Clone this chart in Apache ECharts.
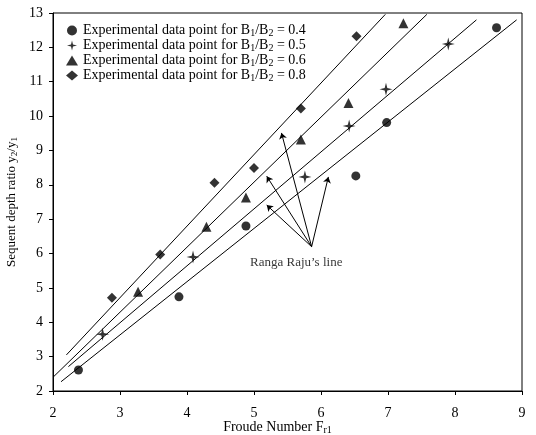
<!DOCTYPE html>
<html>
<head>
<meta charset="utf-8">
<script src="https://cdn.jsdelivr.net/npm/echarts@6/dist/echarts.min.js"></script>
<style>html,body{margin:0;padding:0;background:#fff}#c{width:536px;height:435px}</style>
</head>
<body>
<div id="c"></div>
<script>
// Experimental data (x = Froude number, y = sequent depth ratio)
const ratio04 = [[2.38,2.61],[3.88,4.74],[4.88,6.80],[6.52,8.26],[6.98,9.81],[8.62,12.57]];
const ratio05 = [[2.74,3.65],[4.09,5.90],[5.76,8.23],[6.42,9.71],[6.97,10.78],[7.90,12.10]];
const ratio06 = [[3.27,4.89],[4.29,6.78],[4.88,7.63],[5.70,9.32],[6.41,10.38],[7.23,12.70]];
const ratio08 = [[2.88,4.71],[3.60,5.97],[4.41,8.06],[5.00,8.49],[5.70,10.22],[6.53,12.32]];
// Ranga Raju's lines (endpoints)
const line04 = [[2.12,2.27],[8.92,12.80]];
const line05 = [[2.23,2.71],[8.32,12.80]];
const line06 = [[2.00,2.40],[7.58,12.96]];
const line08 = [[2.20,3.05],[6.96,12.96]];
// Annotation arrows: from label to each line
const arrowFrom = [5.86,6.20];
const arrowTips = [[5.41,9.51],[5.19,8.25],[5.19,7.41],[6.11,8.23]];
const annotationPos = [5.63,5.73];
const annotationText = "Ranga Raju\u2019s line";
const legendValues = ["0.4","0.5","0.6","0.8"];
const xTicks = {min:2,max:9,interval:1};
const yTicks = {min:2,max:13,interval:1};

const FONT = "Liberation Serif";
const starPath = 'path://M0,-10 L2,-2 L10,0 L2,2 L0,10 L-2,2 L-10,0 L-2,-2 Z';
const symbols = ['circle', starPath, 'triangle', 'diamond'];
const symSizes = [9, 13, 10, 10];
const sets = [ratio04, ratio05, ratio06, ratio08];
const lines = [line04, line05, line06, line08];

const series = [];
sets.forEach((d,i)=>{
  series.push({
    name: legendValues[i], type:'scatter', data:d,
    symbol: symbols[i], symbolSize: symSizes[i],
    itemStyle:{color:'#000'}, z:5
  });
});
lines.forEach((d)=>{
  series.push({
    type:'line', data:d, symbol:'none', silent:true,
    lineStyle:{color:'#000', width:1}, z:3
  });
});
series.push({
  type:'lines', coordinateSystem:'cartesian2d', silent:true,
  symbol:['none','arrow'], symbolSize:6,
  lineStyle:{color:'#000', width:1, opacity:1},
  data: arrowTips.map(t=>({coords:[arrowFrom, t]})), z:4
});
series.push({
  type:'scatter', data:[annotationPos], symbolSize:0, silent:true,
  label:{show:true, position:'inside', formatter:annotationText,
    color:'#000', fontFamily:FONT, fontSize:13}
});

const chart = echarts.init(document.getElementById('c'), null, {renderer:'canvas'});
chart.setOption({
  animation:false,
  backgroundColor:'#fff',
  grid:{left:53, right:14, top:13, bottom:44, show:true, borderColor:'#000', borderWidth:1,
    containLabel:false, outerBoundsMode:'none'},
  legend:{
    data: legendValues.map((v,i)=>({name:v, icon: symbols[i]})),
    orient:'vertical', left:61, top:18, itemGap:0,
    itemWidth:12, itemHeight:10,
    formatter: v => 'Experimental data point for B{s|1}/B{s|2} = ' + v,
    textStyle:{fontFamily:FONT, fontSize:14, color:'#000', lineHeight:15,
      rich:{s:{fontFamily:FONT, fontSize:10, color:'#000', lineHeight:15, padding:[5,0,0,0]}}},
    itemStyle:{color:'#000'}
  },
  xAxis:{
    type:'value', min:xTicks.min, max:xTicks.max, interval:xTicks.interval,
    name:'Froude Number F{s|r1}', nameLocation:'middle', nameGap:28, nameMoveOverlap:false,
    nameTextStyle:{fontFamily:FONT, fontSize:14, color:'#000', padding:[0,20,0,0],
      rich:{s:{fontFamily:FONT, fontSize:10, color:'#000', padding:[6,0,0,0]}}},
    axisLine:{lineStyle:{color:'#000'}},
    axisTick:{show:true, inside:false, length:4, lineStyle:{color:'#000'}},
    axisLabel:{fontFamily:FONT, fontSize:14, color:'#000', margin:15},
    splitLine:{show:false}
  },
  yAxis:{
    type:'value', min:yTicks.min, max:yTicks.max, interval:yTicks.interval,
    name:'Sequent depth ratio y{s|2}/y{s|1}', nameLocation:'middle', nameGap:34, nameRotate:90,
    nameMoveOverlap:false,
    nameTextStyle:{fontFamily:FONT, fontSize:13, color:'#000',
      rich:{s:{fontFamily:FONT, fontSize:9, color:'#000', padding:[6,0,0,0]}}},
    axisLine:{lineStyle:{color:'#000'}},
    axisTick:{show:true, inside:false, length:4, lineStyle:{color:'#000'}},
    axisLabel:{fontFamily:FONT, fontSize:14, color:'#000', margin:10},
    splitLine:{show:false}
  },
  series: series
});
</script>
</body>
</html>
